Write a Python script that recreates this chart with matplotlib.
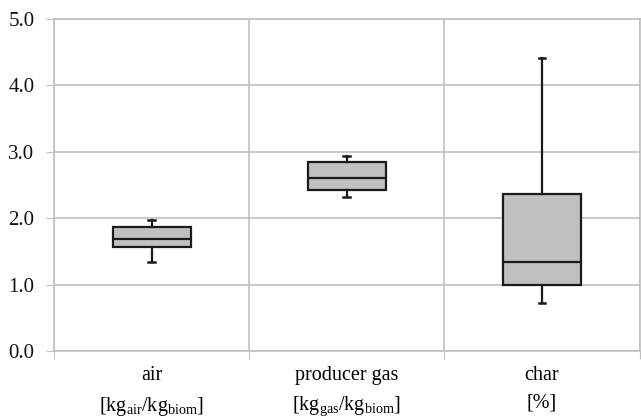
import matplotlib
matplotlib.use('Agg')
import matplotlib.pyplot as plt

plt.rcParams['font.family'] = ['Liberation Serif', 'DejaVu Serif']
plt.rcParams['mathtext.fontset'] = 'custom'
plt.rcParams['mathtext.rm'] = 'Liberation Serif'
plt.rcParams['mathtext.it'] = 'Liberation Serif:italic'

# box statistics
categories = ['air', 'producer gas', 'char']
units = [r'[kg$_{\mathrm{air}}$/kg$_{\mathrm{biom}}$]',
         r'[kg$_{\mathrm{gas}}$/kg$_{\mathrm{biom}}$]',
         '[%]']
whis_low = [1.34, 2.32, 0.73]
q1 = [1.56, 2.42, 0.99]
median = [1.68, 2.60, 1.34]
q3 = [1.87, 2.84, 2.36]
whis_high = [1.97, 2.93, 4.42]

grid_col = '#c0c0c0'

stats = []
for i in range(len(categories)):
    stats.append({'whislo': whis_low[i], 'q1': q1[i], 'med': median[i],
                  'q3': q3[i], 'whishi': whis_high[i], 'fliers': []})

fig = plt.figure(figsize=(6.41, 4.18), dpi=100)
ax = fig.add_axes([0.0842, 0.1603, 0.9135, 0.7942])

ax.bxp(stats, positions=range(len(categories)), widths=0.4,
       capwidths=0.035, patch_artist=True, showfliers=False,
       boxprops=dict(facecolor='#c0c0c0', edgecolor='#1a1a1a', linewidth=1.6),
       medianprops=dict(color='#1a1a1a', linewidth=1.6),
       whiskerprops=dict(color='#1a1a1a', linewidth=1.6),
       capprops=dict(color='#1a1a1a', linewidth=1.8),
       zorder=3)

ax.set_xlim(-0.5, len(categories) - 0.5)
ax.set_ylim(0, 5)
ax.set_yticks([0, 1, 2, 3, 4, 5])
ax.set_yticklabels([f'{v:.1f}' for v in [0, 1, 2, 3, 4, 5]], fontsize=15)

# gridlines on category boundaries, labels at centres
ax.set_xticks([i - 0.5 for i in range(len(categories) + 1)])
ax.set_xticklabels([])
ax.set_xticks(range(len(categories)), minor=True)
ax.set_xticklabels([f'{c}\n{u}' for c, u in zip(categories, units)],
                   minor=True, fontsize=14.5, linespacing=1.6)
ax.tick_params(axis='x', which='minor', length=0, pad=11)
ax.tick_params(axis='x', which='major', length=6, color=grid_col)
ax.tick_params(axis='y', length=6, color=grid_col, pad=8, labelcolor='#111111')

ax.grid(True, which='major', color=grid_col, linewidth=1.2, zorder=0)
ax.set_axisbelow(True)
for s in ax.spines.values():
    s.set_color(grid_col)
    s.set_linewidth(1.2)

fig.savefig('out.png', dpi=100)
